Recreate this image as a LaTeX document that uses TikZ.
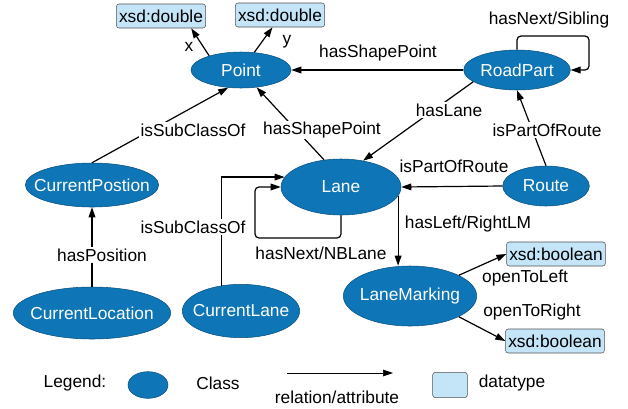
\documentclass[tikz,border=0pt]{standalone}
\usepackage{fontspec}
\setmainfont{Liberation Sans}
\usetikzlibrary{shapes.geometric,arrows.meta}
\definecolor{bleuclasse}{HTML}{0E76B6}
\definecolor{bordclasse}{HTML}{0B4F7E}
\definecolor{bleutype}{HTML}{C4E4F7}
\definecolor{bordtype}{HTML}{505050}

\begin{document}
\begin{tikzpicture}[x=0.75pt,y=-0.75pt,font=\fontsize{13}{15}\selectfont]
    \tikzstyle{lien}=[-{Triangle[length=7.5pt,width=5pt]},line width=0.9pt]
    \tikzstyle{boucle}=[-{Triangle[length=7.5pt,width=5pt]},line width=0.9pt,rounded corners=3pt]
    \tikzstyle{etiq}=[fill=white,inner sep=1pt]
\tikzset{classe/.style={ellipse,draw=bordclasse,fill=bleuclasse,text=white,inner xsep=-8pt,inner ysep=0pt},
typedonnee/.style={draw=bordtype,fill=bleutype,rounded corners=2pt,inner xsep=2pt,minimum height=18pt}}
\useasboundingbox (0,0) rectangle (628,408);

\node[typedonnee] (dx) at (161,16){xsd:double};
\node[typedonnee] (dy) at (280,15){xsd:double};
\node[classe,minimum width=75pt,minimum height=27pt] (point) at (241,70){Point};
\node[classe,minimum width=80pt,minimum height=30pt] (roadpart) at (517,70){RoadPart};
\node[classe,minimum width=98pt,minimum height=33pt] (curpos) at (92,185){CurrentPostion};
\node[classe,minimum width=90pt,minimum height=42pt] (lane) at (341,187){Lane};
\node[classe,minimum width=65pt,minimum height=30pt] (route) at (546,186){Route};
\node[classe,minimum width=100pt,minimum height=45pt] (lanemark) at (410,296){LaneMarking};
\node[typedonnee] (boolg) at (556,254){xsd:boolean};
\node[typedonnee] (boold) at (555,341){xsd:boolean};
\node[classe,minimum width=118pt,minimum height=39pt] (curloc) at (92,313){CurrentLocation};
\node[classe,minimum width=88pt,minimum height=40pt] (curlane) at (241,311){CurrentLane};

\coordinate (sibcoin) at (589,36);
\coordinate (nbcoin) at (255,238);

% attributs de Point
\draw[lien] (point.156) -- ([xshift=-11pt]dx.south east);
\node (lx) at (189,47){x};
\draw[lien] (point.53) -- ([xshift=28pt]dy.south west);
\node (ly) at (287,42){y};

% RoadPart
\draw[lien] (roadpart.west) -- (point.east);
\node (lshape) at (378,53){hasShapePoint};
\draw[boucle] (roadpart.north) |- (sibcoin) |- (roadpart.east);
\node (lsib) at (549,20){hasNext/Sibling};
\draw[lien] (roadpart.195) -- (lane.50);
\node[etiq] (llane) at (449,110){hasLane};

% Route
\draw[lien] (route.north) -- (roadpart.south);
\node[etiq] (lroute) at (547,130){isPartOfRoute};
\draw[lien] (route.west) -- (lane.east);
\node (lroute2) at (454,166){isPartOfRoute};

% Lane
\draw[lien] (lane.122) -- (point.312);
\node[etiq] (lshape2) at (322,130){hasShapePoint};
\draw[boucle] (lane.south) |- (nbcoin) |- (lane.west);
\node (lnb) at (321,253){hasNext/NBLane};
\draw[lien] (lane.351) -- (lane.351 |- lanemark.north);
\node (llm) at (468,224){hasLeft/RightLM};

% LaneMarking
\draw[lien] (lanemark.23) -- (boolg.west);
\node (lleft) at (525,278){openToLeft};
\draw[lien] (lanemark.337) -- (boold.west);
\node (lright) at (532,312){openToRight};

% positions courantes
\draw[lien] (curpos.north) -- (point.234);
\node[etiq] (lsub) at (193,130){isSubClassOf};
\draw[lien] (curloc.north) -- (curpos.south);
\node[etiq] (lpos) at (102,255){hasPosition};
\draw[lien] (curlane.127) |- (lane.170);
\node[etiq] (lsub2) at (193,227){isSubClassOf};

% legende
\node (leg) at (75,383){Legend:};
\node[classe,minimum width=30pt,minimum height=20pt] (legcl) at (148,385){};
\node (legcltxt) at (218,383){Class};
\coordinate (legA) at (287,373);
\coordinate (legB) at (393,373);
\draw[-{Triangle[length=7.5pt,width=5pt]},line width=0.5pt] (legA) -- (legB);
\node (legrel) at (337,397){relation/attribute};
\node[typedonnee,minimum width=26pt,minimum height=19pt] (legdt) at (450,385){};
\node (legdttxt) at (512,383){datatype};
\end{tikzpicture}
\end{document}
